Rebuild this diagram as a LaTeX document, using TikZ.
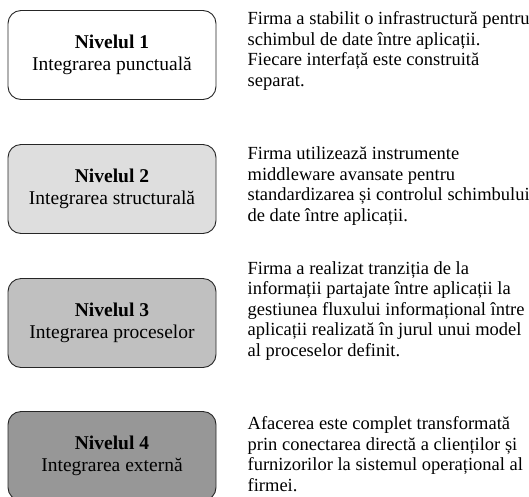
\documentclass[tikz,border=0pt]{standalone}
\usepackage{fontspec}
\setmainfont{Liberation Serif}
\usepackage{tikz}
\usetikzlibrary{positioning}
\tikzstyle{nivel} = [draw=black!85, line width=0.9pt, rounded corners=13pt, minimum width=208pt, minimum height=89pt, align=center, font=\fontsize{19.5}{22}\selectfont]
\tikzstyle{descr} = [anchor=west, align=left, inner sep=0pt, font=\fontsize{18.5}{20.5}\selectfont]
\definecolor{g2}{HTML}{DEDEDE}
\definecolor{g3}{HTML}{C0C0C0}
\definecolor{g4}{HTML}{979797}

\begin{document}
\begin{tikzpicture}[x=1pt,y=-1pt]
			\useasboundingbox (0,0) rectangle (529,496);
			\node[nivel,fill=white] (n1) at (112,55) {\textbf{Nivelul 1}\\Integrarea punctuală};
			\node[nivel,fill=g2] (n2) at (112,189) {\textbf{Nivelul 2}\\Integrarea structurală};
			\node[nivel,fill=g3] (n3) at (112,323) {\textbf{Nivelul 3}\\Integrarea proceselor};
			\node[nivel,fill=g4] (n4) at (112,456) {\textbf{Nivelul 4}\\Integrarea externă};
			\node[descr,right=31pt of n1.east,yshift=4pt] (d1) {Firma a stabilit o infrastructură pentru\\schimbul de date între aplicații.\\Fiecare interfață este construită\\separat.};
			\node[descr,right=31pt of n2.east,yshift=3pt] (d2) {Firma utilizează instrumente\\middleware avansate pentru\\standardizarea și controlul schimbului\\de date între aplicații.};
			\node[descr,right=31pt of n3.east,yshift=12pt] (d3) {Firma a realizat tranziția de la\\informații partajate între aplicații la\\gestiunea fluxului informațional între\\aplicații realizată în jurul unui model\\al proceselor definit.};
			\node[descr,right=31pt of n4.east,yshift=2pt] (d4) {Afacerea este complet transformată\\prin conectarea directă a clienților și\\furnizorilor la sistemul operațional al\\firmei.};
		\end{tikzpicture}
\end{document}
